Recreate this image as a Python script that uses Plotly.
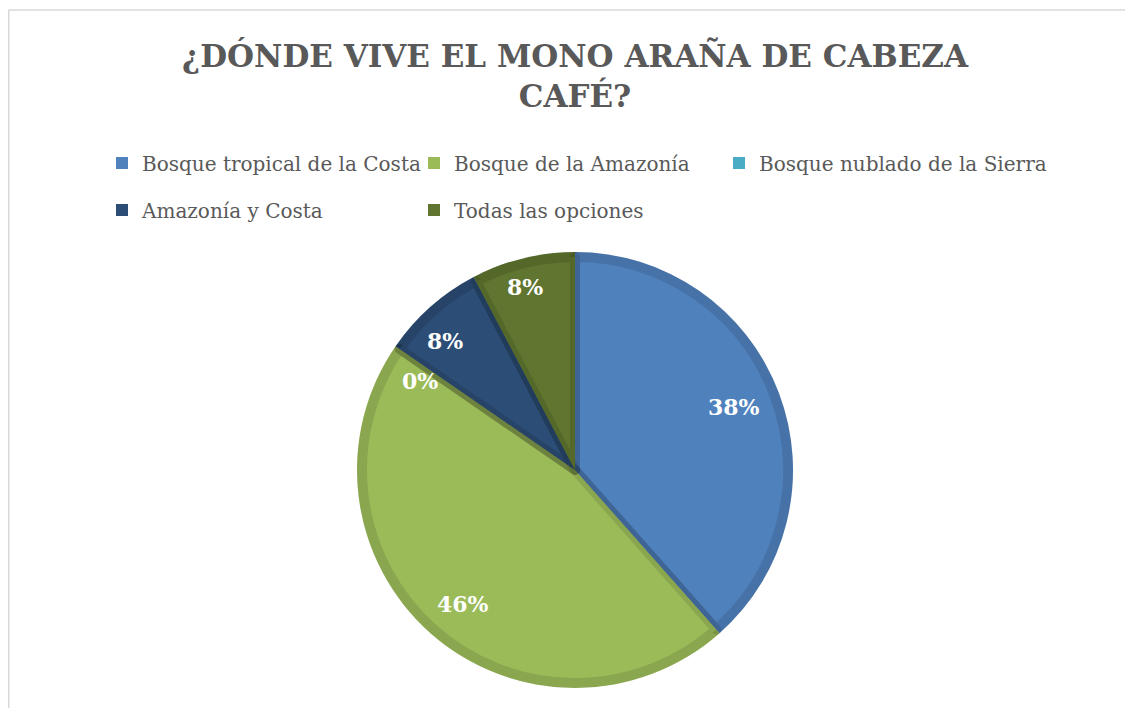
import math
import plotly.graph_objects as go

categorias = ["Bosque tropical de la Costa", "Bosque de la Amazonía",
              "Bosque nublado de la Sierra", "Amazonía y Costa", "Todas las opciones"]
respuestas = [5, 6, 0, 1, 1]
colores = ["#4F81BD", "#9BBB59", "#4BACC6", "#2C4D75", "#5F7530"]

# posición de las etiquetas (fracción del radio, ajuste de ángulo en grados)
etiqueta_radio = [0.785, 0.855, 0.82, 0.84, 0.87]
etiqueta_giro = [-1.0, -4.5, -4.6, -3.7, -1.3]

W, H = 1125, 700
cx, cy, r = 567, 462, 218
serif = "DejaVu Serif"

def dom(rad):
    return dict(x=[(cx - rad) / W, (cx + rad) / W],
                y=[(H - cy - rad) / H, (H - cy + rad) / H])

fig = go.Figure()

# entradas de la leyenda: filas/columnas como en el original,
# cada grupo es un pastel diminuto escondido bajo el principal
grupos = [("legend", [0, 1]), ("legend2", [3, 4]), ("legend3", [2])]
for leg, idx in grupos:
    vals = [respuestas[i] for i in idx]
    fig.add_trace(go.Pie(labels=[categorias[i] for i in idx],
                         values=vals if sum(vals) > 0 else None,
                         sort=False, domain=dom(1), legend=leg,
                         marker=dict(colors=[colores[i] for i in idx], line=dict(width=0)),
                         textinfo="none", hoverinfo="skip"))

# anillo exterior y pastel principal con borde oscurecido
fig.add_trace(go.Pie(labels=categorias, values=respuestas, sort=False, direction="clockwise",
                     domain=dom(r), marker=dict(colors=colores, line=dict(width=0)),
                     textinfo="none", showlegend=False, hoverinfo="skip"))
fig.add_trace(go.Pie(labels=categorias, values=respuestas, sort=False, direction="clockwise",
                     domain=dom(r - 5), showlegend=False,
                     marker=dict(colors=colores, line=dict(color="rgba(0,0,0,0.11)", width=10)),
                     textinfo="none", hovertemplate="%{label}: %{value} (%{percent})<extra></extra>"))

total = sum(respuestas)
acum = 0
anotaciones = []
for v, f, g in zip(respuestas, etiqueta_radio, etiqueta_giro):
    ang = math.radians((acum + v / 2) / total * 360 + g)
    acum += v
    d = f * r
    anotaciones.append(dict(
        x=(cx + d * math.sin(ang)) / W, y=(H - (cy - d * math.cos(ang))) / H,
        xref="paper", yref="paper", showarrow=False,
        text=f"{round(v / total * 100)}%",
        font=dict(family=serif, size=22, color="white", weight="bold")))

fuente_leyenda = dict(family=serif, size=20, color="#595959")
fig.update_layout(
    width=W, height=H,
    margin=dict(l=0, r=0, t=0, b=0),
    paper_bgcolor="white",
    title=dict(text="¿DÓNDE VIVE EL MONO ARAÑA DE CABEZA<br>CAFÉ?", x=cx / W, xanchor="center",
               y=1 - 59 / H, yanchor="top",
               font=dict(family=serif, size=31, color="#595959", weight="bold")),
    legend=dict(orientation="h", x=94 / W, xanchor="left", y=1 - 155 / H, yanchor="middle",
                entrywidth=267, entrywidthmode="pixels", font=fuente_leyenda),
    legend2=dict(orientation="h", x=94 / W, xanchor="left", y=1 - 202 / H, yanchor="middle",
                 entrywidth=267, entrywidthmode="pixels", font=fuente_leyenda),
    legend3=dict(orientation="h", x=711 / W, xanchor="left", y=1 - 155 / H,
                 yanchor="middle", font=fuente_leyenda),
    annotations=anotaciones,
    shapes=[
        dict(type="line", xref="paper", yref="paper", x0=0.75 / W, x1=1, y0=1 - 2 / H, y1=1 - 2 / H,
             line=dict(color="#D9D9D9", width=1.5)),
        dict(type="line", xref="paper", yref="paper", x0=0.75 / W, x1=0.75 / W, y0=0, y1=1 - 2 / H,
             line=dict(color="#D9D9D9", width=1.5)),
    ],
)

fig.write_html("out.html")
